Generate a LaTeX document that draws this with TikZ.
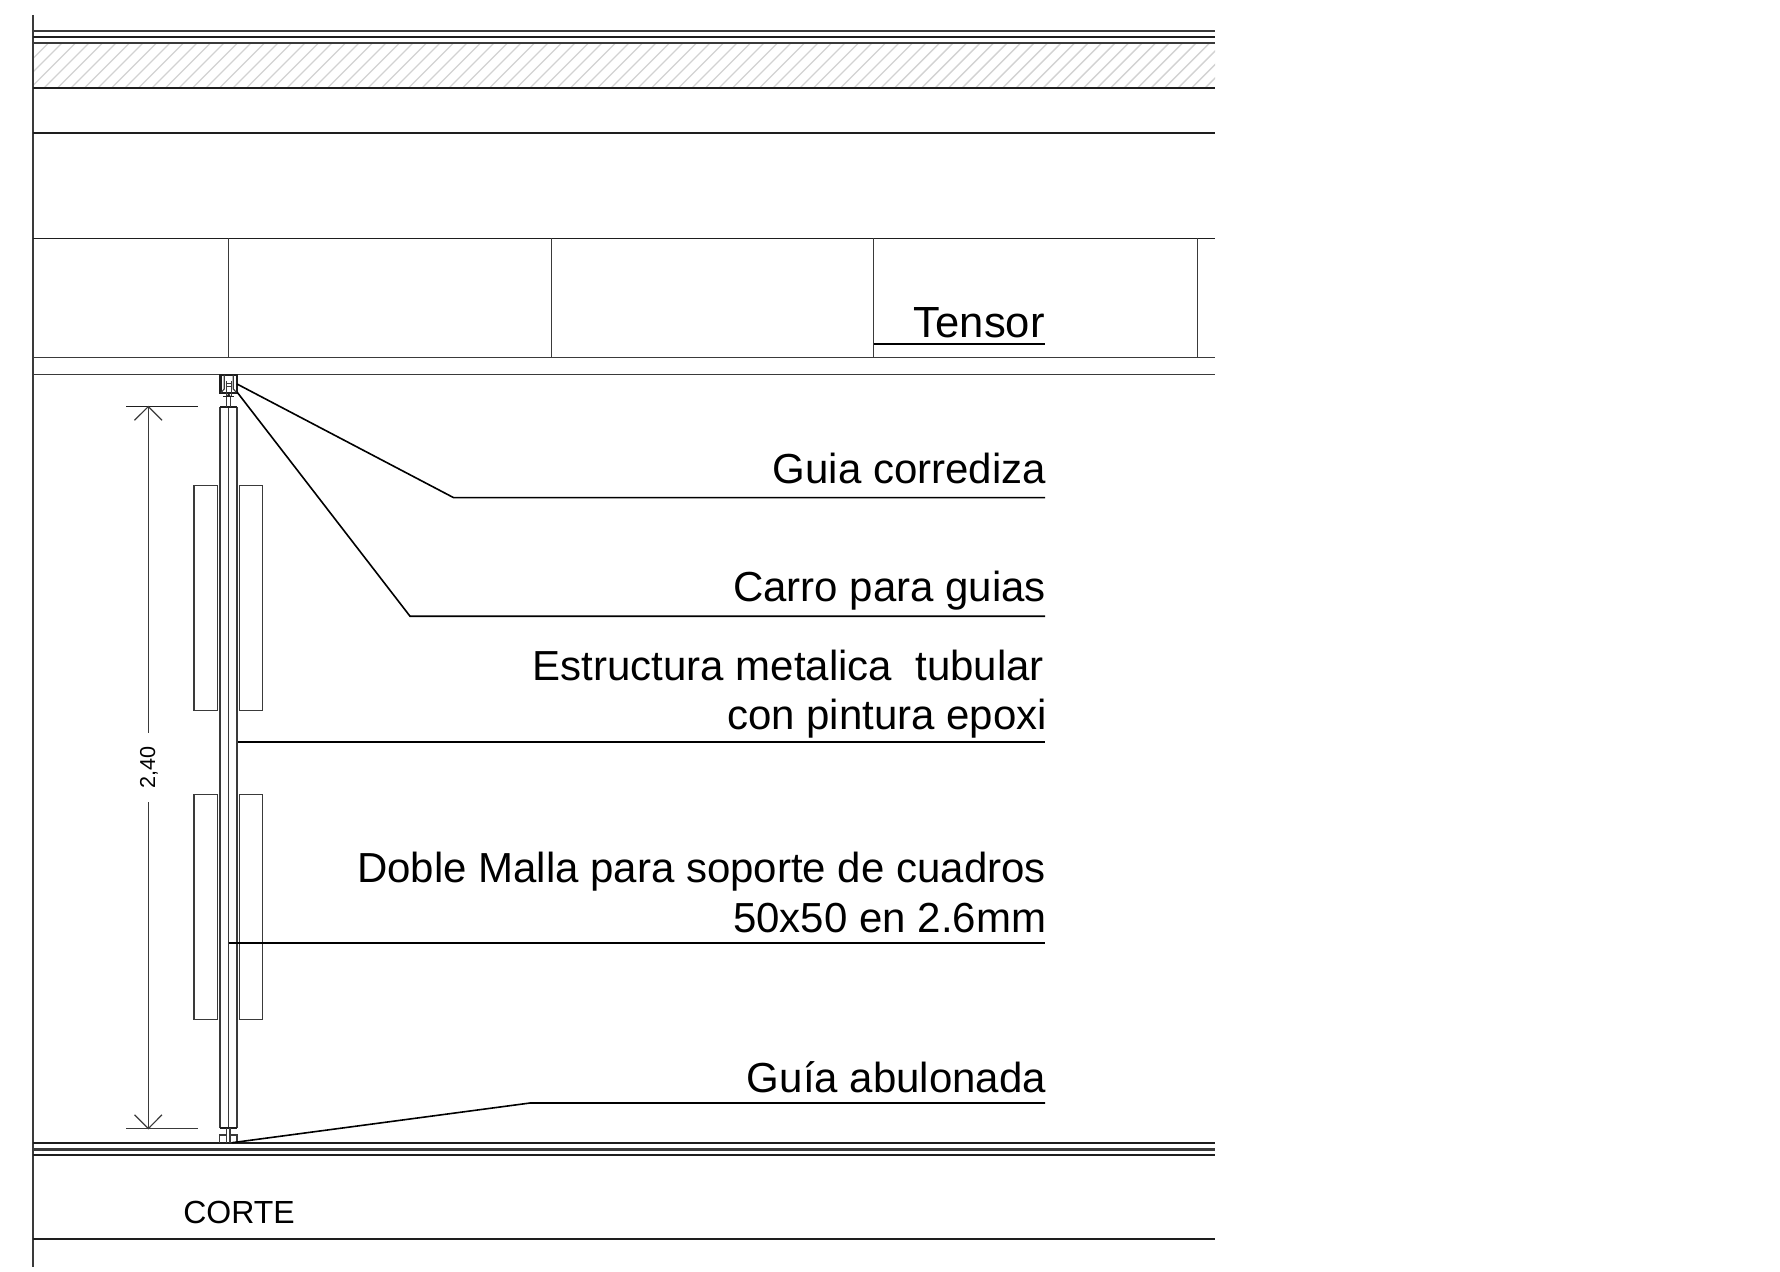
\documentclass[tikz,border=0pt]{standalone}
\usepackage{fontspec}
\setmainfont{Liberation Sans}
\definecolor{ink}{HTML}{1E1E1E}
\definecolor{wall}{HTML}{3A3A3A}
\definecolor{hatchgray}{HTML}{D2D2D2}
\tikzset{
  line/.style={draw=ink,line width=0.8pt},
  thin line/.style={draw=wall,line width=0.7pt},
  heavy line/.style={draw=wall,line width=1.1pt},
  leader/.style={draw=black,line width=0.8pt},
  panelbox/.style={draw=wall,line width=0.7pt},
  lbl/.style={anchor=base east,inner sep=0pt,font=\fontsize{21}{21}\selectfont,text=black},
}
\begin{document}
\begin{tikzpicture}[x=0.5pt,y=-0.5pt]
\useasboundingbox (0,0) rectangle (1780,1272);
% named points
\coordinate (wallT) at (33,15);
\coordinate (wallB) at (33,1267);
\coordinate (carA) at (237,384);
\coordinate (carB) at (237,392);
\coordinate (kneeA) at (453.5,497.6);
\coordinate (kneeB) at (410,616.2);
\coordinate (endA) at (1045,497.6);
\coordinate (endB) at (1045,616.2);
\coordinate (frameP) at (238,742);
\coordinate (endC) at (1045,742);
\coordinate (meshP) at (228.7,943);
\coordinate (endD) at (1045,943);
\coordinate (footP) at (232,1142.7);
\coordinate (kneeE) at (530,1103);
\coordinate (endE) at (1045,1103);
\coordinate (tensL) at (873.7,344.3);
\coordinate (tensR) at (1045,344.3);
% hatch
\begin{scope}
\clip (33,43) rectangle (1215,88);
\foreach \i in {0,...,90} \draw[hatchgray,line width=0.7pt] ({3.5+13.5*\i},88) -- ({48.5+13.5*\i},43);
\end{scope}
% wall line
\draw[thin line,line width=0.9pt] (wallT) -- (wallB);
% horizontals
\draw[heavy line] (33,31) -- (1215,31);
\draw[line] (33,37) -- (1215,37);
\draw[heavy line] (33,43) -- (1215,43);
\draw[line] (33,88) -- (1215,88);
\draw[line] (33,133) -- (1215,133);
\draw[line,line width=0.6pt] (33,238.5) -- (1215,238.5);
\draw[thin line] (33,357.8) -- (1215,357.8);
\draw[thin line] (33,374.8) -- (1215,374.8);
\draw[line] (33,1143) -- (1215,1143);
\draw[heavy line,line width=1.5pt] (33,1149.3) -- (1215,1149.3);
\draw[line] (33,1154.8) -- (1215,1154.8);
\draw[line] (33,1239) -- (1215,1239);
% tensors
\foreach \x in {228.7,551.2,873.7,1197.5} \draw[thin line,line width=0.6pt] (\x,238.5) -- (\x,357.8);
% side panels
\draw[panelbox] (193.8,485.6) rectangle (217.4,710.3);
\draw[panelbox] (239.3,485.6) rectangle (262.7,710.3);
\draw[panelbox] (193.8,794.6) rectangle (217.4,1019.3);
\draw[panelbox] (239.3,794.6) rectangle (262.7,1019.3);
% tube
\draw[heavy line] (220.2,407) -- (220.2,1127.5);
\draw[heavy line] (236.8,407) -- (236.8,1127.5);
\draw[thin line,line width=0.5pt] (228.7,407) -- (228.7,1127.5);
\draw[draw=ink,line width=1.2pt] (220,407) -- (237.3,407);
\draw[draw=ink,line width=1pt] (220,1127.5) -- (237.3,1127.5);
% carriage
\draw[draw=ink,line width=1.1pt] (220.5,374.7) rectangle (237,392.7);
\draw[thin line,line width=0.6pt] (224.3,375) -- (224.3,389) -- (221,392.5);
\draw[thin line,line width=0.6pt] (233.3,375) -- (233.3,389) -- (236.5,392.5);
\draw[thin line,line width=0.4pt] (226.5,381) -- (226.5,396) (231,381) -- (231,396);
\draw[thin line,line width=0.4pt] (225.5,383) -- (232,383) (225.5,386.5) -- (232,386.5);
\draw[draw=ink,line width=0.8pt] (223.3,396.5) -- (234,396.5);
\fill[ink] (228.7,392.7) -- (226.7,396.5) -- (230.7,396.5) -- cycle;
\draw[thin line,line width=0.4pt] (226.7,397) -- (226.7,407) (230.5,397) -- (230.5,407);
% foot
\draw[thin line,line width=0.6pt] (219.5,1143) -- (219.5,1135) -- (226.7,1135) -- (226.7,1127.5);
\draw[thin line,line width=0.6pt] (237,1143) -- (237,1135) -- (230,1135) -- (230,1127.5);
\draw[thin line,line width=0.6pt] (226.7,1135) -- (226.7,1143) (230,1135) -- (230,1143);
% dimension
\draw[line,line width=0.7pt] (126,406.6) -- (198,406.6);
\draw[thin line,line width=0.6pt] (126,1128.6) -- (197.5,1128.6);
\draw[thin line,line width=0.6pt] (148.3,406.6) -- (148.3,732.7);
\draw[thin line,line width=0.6pt] (148.3,802) -- (148.3,1128.6);
\draw[thin line,line width=0.6pt] (134.5,420.3) -- (148.3,406.6) -- (162,420.3);
\draw[thin line,line width=0.6pt] (134.5,1114.8) -- (148.3,1128.6) -- (162,1114.8);
\node[anchor=base,inner sep=0pt,rotate=90,font=\fontsize{10.8}{10.8}\selectfont,text=black] (dim) at (155,767.5) {2,40};
% labels
\node[lbl,font=\fontsize{21.8}{21.8}\selectfont] (tensor) at (1045,337.2) {Tensor};
\node[lbl] (guia) at (1046.3,483.2) {Guia corrediza};
\node[lbl] (carro) at (1046.3,601.2) {Carro para guias};
\node[lbl] (estr) at (1044.3,680.2) {Estructura metalica~ tubular};
\node[lbl] (pint) at (1047.5,729.2) {con pintura epoxi};
\node[lbl] (doble) at (1046.3,882) {Doble Malla para soporte de cuadros};
\node[lbl] (cin) at (1046.5,932) {50x50 en 2.6mm};
\node[lbl] (abul) at (1046.3,1092) {Guía abulonada};
\node[anchor=base,inner sep=0pt,font=\fontsize{16}{16}\selectfont,text=black] (corte) at (239,1223) {CORTE};
% leaders
\draw[leader] (tensL) -- (tensR);
\draw[leader] (carA) -- (kneeA) -- (endA);
\draw[leader] (carB) -- (kneeB) -- (endB);
\draw[leader] (frameP) -- (endC);
\draw[leader] (meshP) -- (endD);
\draw[leader] (footP) -- (kneeE) -- (endE);
\end{tikzpicture}
\end{document}
